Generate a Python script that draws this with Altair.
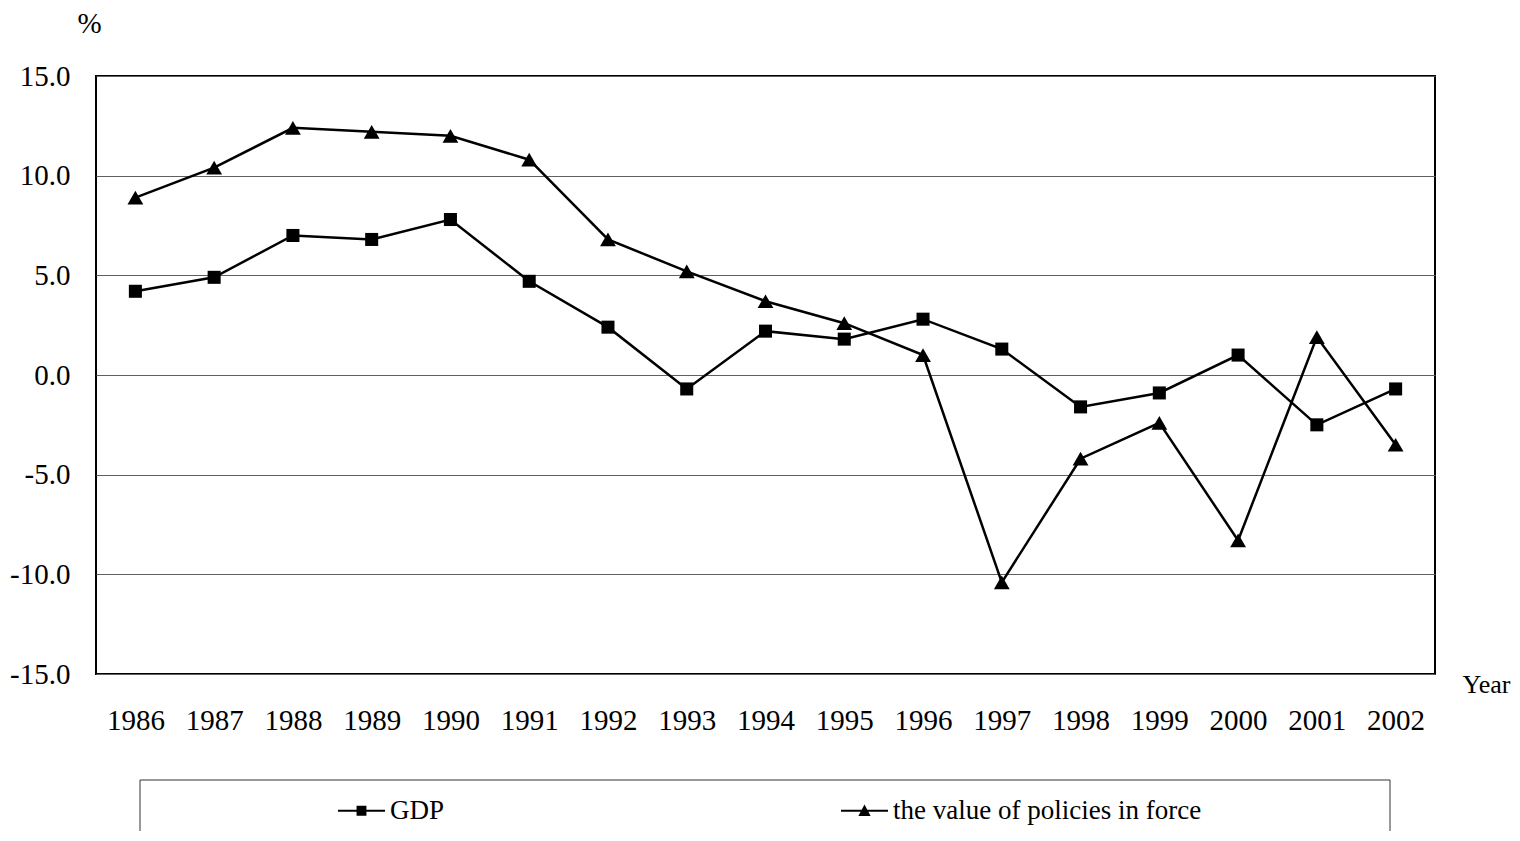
import altair as alt
import pandas as pd

years = [str(y) for y in range(1986, 2003)]
gdp = [4.2, 4.9, 7.0, 6.8, 7.8, 4.7, 2.4, -0.7, 2.2, 1.8, 2.8, 1.3, -1.6, -0.9, 1.0, -2.5, -0.7]
policies = [8.9, 10.4, 12.4, 12.2, 12.0, 10.8, 6.8, 5.2, 3.7, 2.6, 1.0, -10.4, -4.2, -2.4, -8.3, 1.9, -3.5]
series_names = ["GDP", "the value of policies in force"]
y_ticks = [-15, -10, -5, 0, 5, 10, 15]

rows = []
for name, vals in zip(series_names, [gdp, policies]):
    for yr, v in zip(years, vals):
        rows.append({"Year": yr, "value": v, "series": name})
df = pd.DataFrame(rows)

FONT = "Liberation Serif"
FS = 29

x_enc = alt.X(
    "Year:O", sort=years,
    scale=alt.Scale(type="point", padding=0.5),
    axis=alt.Axis(title="Year", labelAngle=0, ticks=False, domain=False, grid=False,
                  labelPadding=32, labelFont=FONT, labelFontSize=FS, labelColor="black",
                  titleFont=FONT, titleFontSize=26, titleFontWeight="normal", titleColor="black",
                  titleX=1366, titleY=10, titleAlign="left", titleBaseline="middle"),
)
y_enc = alt.Y(
    "value:Q",
    scale=alt.Scale(domain=[-15, 15], nice=False, zero=False),
    axis=alt.Axis(title="%", values=y_ticks, domain=False, ticks=False,
                  labelExpr="replace(format(datum.value, '.1f'), '\u2212', '-')",
                  labelPadding=26, labelFont=FONT, labelFontSize=FS, labelColor="black",
                  grid=True, gridColor="#606060", gridWidth=1,
                  titleFont=FONT, titleFontSize=FS, titleFontWeight="normal", titleColor="black",
                  titleAngle=0, titleX=-7, titleY=-53, titleAlign="center", titleBaseline="middle"),
)

base = alt.Chart(df)

lines = base.mark_line(color="black", strokeWidth=2.5).encode(x=x_enc, y=y_enc, detail="series:N")

points = base.mark_point(filled=True, color="black", opacity=1).encode(
    x=x_enc, y=y_enc,
    shape=alt.Shape("series:N", scale=alt.Scale(domain=series_names, range=["square", "triangle-up"]), legend=None),
    size=alt.Size("series:N", scale=alt.Scale(domain=series_names, range=[170, 250]), legend=None),
)

# legend glyphs: a short line with the marker on it (filled shapes only)
sq_path = "M-1,-0.045H1V0.045H-1Z M-0.21,-0.21H0.21V0.21H-0.21Z"
tri_path = "M-1,-0.045H1V0.045H-1Z M0,-0.27L0.26,0.22H-0.26Z"

legend_layer = base.mark_point(filled=True, color="black", opacity=0).encode(
    x=x_enc, y=y_enc,
    shape=alt.Shape(
        "series:N",
        scale=alt.Scale(domain=series_names, range=[sq_path, tri_path]),
        legend=alt.Legend(
            title=None, orient="none", legendX=242, legendY=711, direction="horizontal",
            labelFont=FONT, labelFontSize=27, labelColor="black", labelOffset=5, labelLimit=0,
            symbolSize=2209, symbolFillColor="black", symbolStrokeWidth=0,
            symbolOpacity=1, columnPadding=396, padding=0,
        ),
    ),
)

box = alt.Chart(pd.DataFrame({"box": [1]})).mark_rect(
    fill=None, stroke="#333333", strokeWidth=1
).encode(x=alt.value(44), x2=alt.value(1294), y=alt.value(704), y2=alt.value(790))

chart = alt.layer(lines, points, legend_layer, box).resolve_scale(shape="independent").properties(
    width=1339, height=598,
    background="white",
    autosize=alt.AutoSizeParams(type="none"),
    padding={"left": 88, "top": 68, "right": 77, "bottom": 157},
).configure_view(stroke="black", strokeWidth=2)

chart.save("out.html", embed_options={"renderer": "svg", "actions": False})
